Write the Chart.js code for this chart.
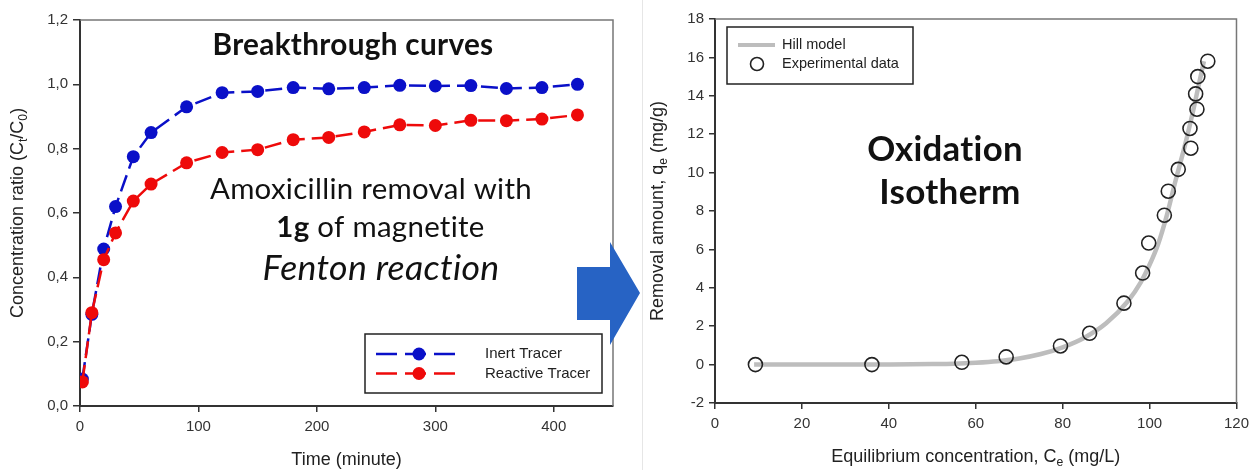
<!DOCTYPE html>
<html>
<head>
<meta charset="utf-8">
<script src="https://cdn.jsdelivr.net/npm/chart.js@4"></script>
<style>
  html, body { margin:0; padding:0; background:#fff; }
  body { width:1255px; height:470px; position:relative; overflow:hidden; }
  #c1 { position:absolute; left:0; top:0; }
  #c2 { position:absolute; left:640px; top:0; }
  #sep { position:absolute; left:642px; top:0; width:1px; height:470px; background:#e6e6e6; }
  #arrow { position:absolute; left:0; top:0; pointer-events:none; }
</style>
</head>
<body>
<canvas id="c1" width="640" height="470"></canvas>
<div id="sep"></div>
<canvas id="c2" width="615" height="470"></canvas>
<svg id="arrow" width="1255" height="470"><polygon points="577,267 610,267 610,242 640,293 610,345 610,320 577,320" fill="#2763c4"/></svg>
<script>
// ---------- Data: breakthrough curves ----------
const timeMin = [2, 10, 20, 30, 45, 60, 90, 120, 150, 180, 210, 240, 270, 300, 330, 360, 390, 420];
const inertTracer = [0.084, 0.285, 0.488, 0.62, 0.775, 0.85, 0.93, 0.974, 0.978, 0.99, 0.986, 0.99, 0.997, 0.995, 0.996, 0.987, 0.99, 1.0];
const reactiveTracer = [0.075, 0.29, 0.455, 0.538, 0.637, 0.69, 0.756, 0.788, 0.797, 0.828, 0.835, 0.852, 0.874, 0.872, 0.888, 0.887, 0.892, 0.905];
const leftYTicks = [0, 0.2, 0.4, 0.6, 0.8, 1.0, 1.2];
const leftXTicks = [0, 100, 200, 300, 400];

// ---------- Data: oxidation isotherm ----------
const ceExp = [9.3, 36.1, 56.8, 67.0, 79.5, 86.2, 94.1, 98.4, 99.8, 103.4, 104.3, 106.6, 109.5, 109.3, 110.9, 110.6, 111.1, 113.4];
const qeExp = [0, 0, 0.12, 0.4, 0.97, 1.63, 3.2, 4.77, 6.33, 7.78, 9.03, 10.17, 11.27, 12.3, 13.3, 14.1, 15.0, 15.8];
const hillCe = [9, 20, 30, 40, 50, 55, 60, 65, 70, 75, 80, 85, 90, 95, 98, 100, 102, 104, 106, 108, 110, 112.5];
const hillQe = [0, 0, 0, 0.01, 0.03, 0.05, 0.1, 0.18, 0.32, 0.55, 0.9, 1.4, 2.15, 3.3, 4.3, 5.2, 6.3, 7.8, 9.6, 11.3, 13.2, 15.8];
const rightXTicks = [0, 20, 40, 60, 80, 100, 120];
const rightYTicks = [-2, 0, 2, 4, 6, 8, 10, 12, 14, 16, 18];

Chart.defaults.font.family = "'Liberation Sans', Arial, sans-serif";
Chart.defaults.color = '#333';

const AXIS = "'Liberation Sans', Arial, sans-serif";
const CAL = "Lato, 'Open Sans', sans-serif";

function drawRich(ctx, parts, x, y, size, rotate) {
  ctx.save();
  ctx.translate(x, y);
  if (rotate) ctx.rotate(-Math.PI / 2);
  ctx.fillStyle = '#222';
  ctx.textBaseline = 'alphabetic';
  ctx.textAlign = 'left';
  const fonts = parts.map(p => (p.sub ? (size * 0.68).toFixed(1) : size) + 'px ' + AXIS);
  let total = 0;
  const ws = parts.map((p, i) => { ctx.font = fonts[i]; const w = ctx.measureText(p.t).width; total += w; return w; });
  let cx = -total / 2;
  const base = size * 0.36;
  parts.forEach((p, i) => {
    ctx.font = fonts[i];
    ctx.fillText(p.t, cx, p.sub ? base + size * 0.22 : base);
    cx += ws[i];
  });
  ctx.restore();
}

function setNoLig(ctx) {
  if ('letterSpacing' in ctx) ctx.letterSpacing = '0.3px';
}

function fitFont(ctx, text, style, weight, family, targetW) {
  ctx.save();
  setNoLig(ctx);
  ctx.font = style + ' ' + weight + ' 100px ' + family;
  const w = ctx.measureText(text).width;
  ctx.restore();
  return 100 * targetW / w;
}

function drawFitText(ctx, text, style, weight, targetW, cx, cy) {
  const s = fitFont(ctx, text, style, weight, CAL, targetW);
  ctx.save();
  setNoLig(ctx);
  ctx.font = style + ' ' + weight + ' ' + s.toFixed(2) + 'px ' + CAL;
  ctx.fillStyle = '#111';
  ctx.textAlign = 'center';
  ctx.textBaseline = 'middle';
  ctx.fillText(text, cx, cy);
  ctx.restore();
  return s;
}

function frame(chart) {
  const a = chart.chartArea, ctx = chart.ctx;
  ctx.save();
  ctx.strokeStyle = '#777';
  ctx.lineWidth = 1.5;
  ctx.beginPath();
  ctx.moveTo(a.left, a.top);
  ctx.lineTo(a.right, a.top);
  ctx.lineTo(a.right, a.bottom);
  ctx.stroke();
  ctx.restore();
}

function filterTicks(list) {
  return function (scale) { scale.ticks = list.map(v => ({ value: v })); };
}

// ---------- Left chart ----------
const leftPlugin = {
  id: 'leftDeco',
  afterDraw(chart) {
    const ctx = chart.ctx, a = chart.chartArea;
    frame(chart);
    drawRich(ctx, [{ t: 'Time (minute)' }], (a.left + a.right) / 2, 459, 18, false);
    drawRich(ctx, [{ t: 'Concentration ratio (C' }, { t: 't', sub: true }, { t: '/C' }, { t: '0', sub: true }, { t: ')' }], 17, (a.top + a.bottom) / 2, 18, true);
    drawFitText(ctx, 'Breakthrough curves', 'normal', 'bold', 277, 353, 45);
    const s = drawFitText(ctx, 'Amoxicillin removal with', 'normal', 'normal', 317, 371, 190);
    ctx.save();
    setNoLig(ctx);
    ctx.fillStyle = '#111';
    ctx.textBaseline = 'middle';
    ctx.font = 'bold ' + s.toFixed(2) + 'px ' + CAL;
    const w1 = ctx.measureText('1g').width;
    ctx.font = 'normal ' + s.toFixed(2) + 'px ' + CAL;
    const w2 = ctx.measureText(' of magnetite').width;
    let x0 = 380.5 - (w1 + w2) / 2;
    ctx.textAlign = 'left';
    ctx.font = 'bold ' + s.toFixed(2) + 'px ' + CAL;
    ctx.fillText('1g', x0, 228);
    ctx.font = 'normal ' + s.toFixed(2) + 'px ' + CAL;
    ctx.fillText(' of magnetite', x0 + w1, 228);
    ctx.restore();
    drawFitText(ctx, 'Fenton reaction', 'italic', 'normal', 234, 381, 268);
    // legend
    const lx = 365, ly = 334, lw = 237, lh = 59;
    ctx.save();
    ctx.fillStyle = '#fff';
    ctx.fillRect(lx, ly, lw, lh);
    ctx.strokeStyle = '#222';
    ctx.lineWidth = 1.5;
    ctx.strokeRect(lx, ly, lw, lh);
    chart.data.datasets.forEach((ds, i) => {
      const yy = 354 + i * 19.5;
      ctx.strokeStyle = ds.borderColor;
      ctx.lineWidth = 2.5;
      ctx.setLineDash([21, 8]);
      ctx.beginPath(); ctx.moveTo(376, yy); ctx.lineTo(455, yy); ctx.stroke();
      ctx.setLineDash([]);
      ctx.fillStyle = ds.borderColor;
      ctx.beginPath(); ctx.arc(419, yy, 6.5, 0, Math.PI * 2); ctx.fill();
      ctx.fillStyle = '#222';
      ctx.font = '15px ' + AXIS;
      ctx.textAlign = 'left';
      ctx.textBaseline = 'middle';
      ctx.fillText(ds.label, 485, yy);
    });
    ctx.restore();
  }
};

new Chart(document.getElementById('c1'), {
  type: 'line',
  data: {
    datasets: [
      { label: 'Inert Tracer', order: 1, data: timeMin.map((t, i) => ({ x: t, y: inertTracer[i] })),
        borderColor: '#0a10c8', backgroundColor: '#0a10c8', pointBackgroundColor: '#0a10c8',
        borderWidth: 2.5, borderDash: [17, 7], pointRadius: 6.5, pointBorderWidth: 0, tension: 0 },
      { label: 'Reactive Tracer', order: 0, data: timeMin.map((t, i) => ({ x: t, y: reactiveTracer[i] })),
        borderColor: '#ee0a0a', backgroundColor: '#ee0a0a', pointBackgroundColor: '#ee0a0a',
        borderWidth: 2.5, borderDash: [17, 7], pointRadius: 6.5, pointBorderWidth: 0, tension: 0 }
    ]
  },
  options: {
    responsive: false, animation: false, devicePixelRatio: 1,
    layout: { padding: { left: 0, top: 20, right: 27, bottom: 0 } },
    plugins: { legend: { display: false }, tooltip: { enabled: false } },
    scales: {
      x: {
        type: 'linear', min: 0, max: 450,
        afterBuildTicks: filterTicks(leftXTicks),
        afterFit(s) { s.height = 64; },
        ticks: { font: { size: 15 }, color: '#333', padding: 6, maxRotation: 0 },
        grid: { drawOnChartArea: false, tickLength: 6, color: '#333', lineWidth: 1.5 },
        border: { color: '#333', width: 2 }
      },
      y: {
        type: 'linear', min: 0, max: 1.2,
        afterBuildTicks: filterTicks(leftYTicks),
        afterFit(s) { s.width = 80; },
        ticks: { font: { size: 15 }, color: '#333', padding: 5, callback: v => v.toFixed(1).replace('.', ',') },
        grid: { drawOnChartArea: false, tickLength: 7, color: '#333', lineWidth: 1.5 },
        border: { color: '#333', width: 2 }
      }
    }
  },
  plugins: [leftPlugin]
});

// ---------- Right chart ----------
const rightPlugin = {
  id: 'rightDeco',
  afterDraw(chart) {
    const ctx = chart.ctx, a = chart.chartArea;
    frame(chart);
    drawRich(ctx, [{ t: 'Equilibrium concentration, C' }, { t: 'e', sub: true }, { t: ' (mg/L)' }], (a.left + a.right) / 2, 456, 18, false);
    drawRich(ctx, [{ t: 'Removal amount, q' }, { t: 'e', sub: true }, { t: ' (mg/g)' }], 17, (a.top + a.bottom) / 2, 18, true);
    drawFitText(ctx, 'Oxidation', 'normal', 'bold', 154, 305, 150);
    drawFitText(ctx, 'Isotherm', 'normal', 'bold', 140, 310, 193);
    ctx.save();
    ctx.fillStyle = '#fff';
    ctx.fillRect(87, 27, 186, 57);
    ctx.strokeStyle = '#222';
    ctx.lineWidth = 1.5;
    ctx.strokeRect(87, 27, 186, 57);
    const hill = chart.data.datasets[0], exp = chart.data.datasets[1];
    ctx.strokeStyle = hill.borderColor; ctx.lineWidth = 4;
    ctx.beginPath(); ctx.moveTo(98, 45); ctx.lineTo(135, 45); ctx.stroke();
    ctx.strokeStyle = exp.pointBorderColor; ctx.lineWidth = 1.6;
    ctx.beginPath(); ctx.arc(117, 64, 6.5, 0, Math.PI * 2); ctx.stroke();
    ctx.fillStyle = '#222';
    ctx.font = '14.5px ' + AXIS;
    ctx.textAlign = 'left'; ctx.textBaseline = 'middle';
    ctx.fillText(hill.label, 142, 45);
    ctx.fillText(exp.label, 142, 64);
    ctx.restore();
  }
};

new Chart(document.getElementById('c2'), {
  type: 'line',
  data: {
    datasets: [
      { label: 'Hill model', order: 1, data: hillCe.map((c, i) => ({ x: c, y: hillQe[i] })),
        borderColor: '#bdbdbd', borderWidth: 4.5, pointRadius: 0, cubicInterpolationMode: 'monotone', fill: false },
      { label: 'Experimental data', order: 0, showLine: false, data: ceExp.map((c, i) => ({ x: c, y: qeExp[i] })),
        pointRadius: 7, pointBorderColor: '#222', pointBorderWidth: 1.6, pointBackgroundColor: 'rgba(255,255,255,0)',
        borderColor: '#222', backgroundColor: 'rgba(255,255,255,0)' }
    ]
  },
  options: {
    responsive: false, animation: false, devicePixelRatio: 1,
    layout: { padding: { left: 0, top: 19, right: 12, bottom: 0 } },
    plugins: { legend: { display: false }, tooltip: { enabled: false } },
    scales: {
      x: {
        type: 'linear', min: 0, max: 120,
        afterBuildTicks: filterTicks(rightXTicks),
        afterFit(s) { s.height = 67; },
        ticks: { font: { size: 15 }, color: '#333', padding: 6, maxRotation: 0 },
        grid: { drawOnChartArea: false, tickLength: 6, color: '#333', lineWidth: 1.5 },
        border: { color: '#333', width: 2 }
      },
      y: {
        type: 'linear', min: -2, max: 18,
        afterBuildTicks: filterTicks(rightYTicks),
        afterFit(s) { s.width = 75; },
        ticks: { font: { size: 15 }, color: '#333', padding: 5 },
        grid: { drawOnChartArea: false, tickLength: 6, color: '#333', lineWidth: 1.5 },
        border: { color: '#333', width: 2 }
      }
    }
  },
  plugins: [rightPlugin]
});
</script>
</body>
</html>
